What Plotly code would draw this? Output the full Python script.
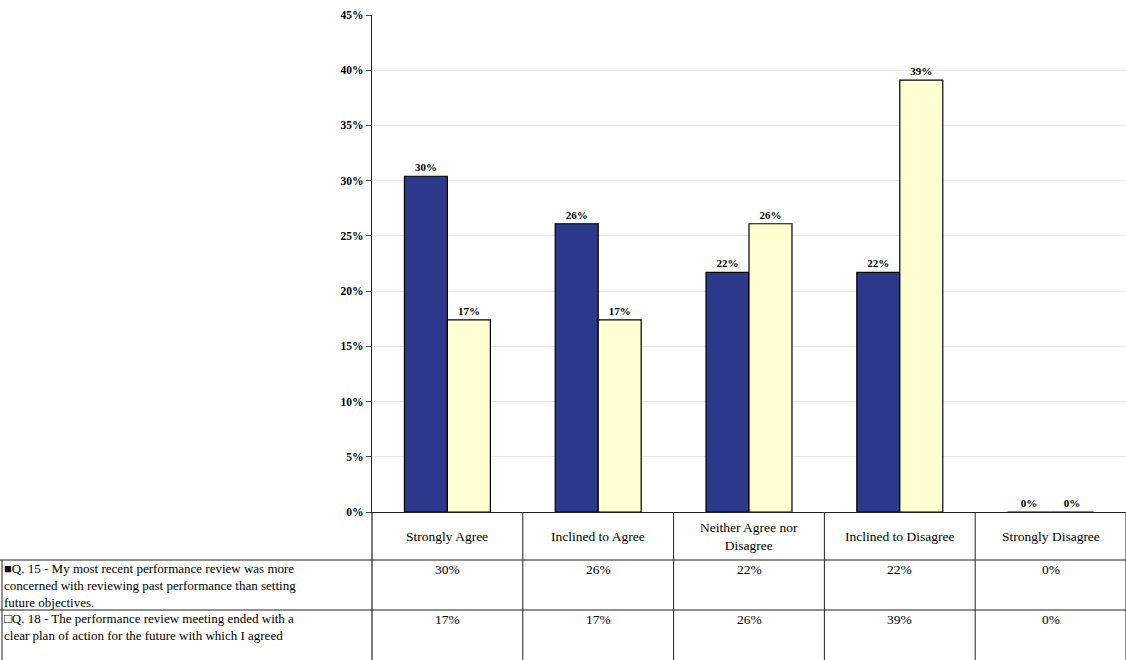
import plotly.graph_objects as go

categories = ["Strongly Agree", "Inclined to Agree", "Neither Agree nor<br>Disagree",
              "Inclined to Disagree", "Strongly Disagree"]
q15 = [0.304, 0.261, 0.217, 0.217, 0.0]
q18 = [0.174, 0.174, 0.261, 0.391, 0.0]
series_names = [
    "Q. 15 - My most recent performance review was more<br>concerned with reviewing past performance than setting<br>future objectives.",
    "Q. 18 - The performance review meeting ended with a<br>clear plan of action for the future with which I agreed",
]
y_ticks = [0, 0.05, 0.10, 0.15, 0.20, 0.25, 0.30, 0.35, 0.40, 0.45]

FONT = "Liberation Serif"
BLUE = "#2C388A"
YELLOW = "#FFFFD2"

fig = go.Figure()
xi = list(range(len(categories)))
for vals, col, name in [(q15, BLUE, series_names[0]), (q18, YELLOW, series_names[1])]:
    fig.add_trace(go.Bar(
        x=xi, y=vals, name=name, marker=dict(color=col, line=dict(color="black", width=1.2)),
        text=[f"{round(v*100):.0f}%" for v in vals], textposition="outside",
        textfont=dict(family=FONT, size=11, color="black", weight="bold"),
        cliponaxis=False, showlegend=False,
    ))

# table geometry (paper units relative to plot area)
H = 497.0
rows_y = [0, -48 / H, -98 / H, -148 / H]
shapes = []
for yy in rows_y[1:3]:
    shapes.append(dict(type="line", xref="paper", yref="paper", x0=-372 / 754, x1=1, y0=yy, y1=yy,
                       line=dict(color="#222", width=1)))
for i in range(len(categories)):
    shapes.append(dict(type="line", xref="x", yref="paper", x0=i + 0.5, x1=i + 0.5,
                       y0=rows_y[0], y1=rows_y[3], line=dict(color="#222", width=1)))
shapes.append(dict(type="line", xref="paper", yref="paper", x0=0, x1=0, y0=0, y1=rows_y[3],
                   line=dict(color="#222", width=1.2)))
shapes.append(dict(type="line", xref="paper", yref="paper", x0=-370 / 754, x1=-370 / 754,
                   y0=rows_y[1], y1=rows_y[3], line=dict(color="#222", width=1)))

annotations = []
for i, c in enumerate(categories):
    annotations.append(dict(x=i, xref="x", y=(rows_y[0] + rows_y[1]) / 2, yref="paper",
                            text=c, showarrow=False, font=dict(family=FONT, size=13.5, color="black"),
                            xanchor="center", yanchor="middle"))
    for r, vals in enumerate([q15, q18]):
        annotations.append(dict(x=i, xref="x", y=rows_y[r + 1] + 0 / H, yref="paper",
                                text=f"{round(vals[i]*100):.0f}%", showarrow=False,
                                font=dict(family=FONT, size=13.5, color="black"),
                                xanchor="center", yanchor="top"))
for r, (name, sym) in enumerate(zip(series_names, ["■", "□"])):
    annotations.append(dict(x=-370 / 754, xref="paper", y=rows_y[r + 1] + 1 / H, yref="paper",
                            text=sym + name, showarrow=False, align="left",
                            font=dict(family=FONT, size=13, color="black"),
                            xanchor="left", yanchor="top"))

fig.update_layout(
    width=1126, height=660,
    margin=dict(l=372, r=0, t=15, b=148),
    paper_bgcolor="white", plot_bgcolor="white",
    barmode="group", bargap=0.43, bargroupgap=0,
    shapes=shapes, annotations=annotations,
    font=dict(family=FONT, color="black"),
    xaxis=dict(range=[-0.5, 4.5], showticklabels=False, showgrid=False, zeroline=False,
               showline=True, linecolor="#222", linewidth=1, ticks=""),
    yaxis=dict(range=[0, 0.45], tickvals=y_ticks, tickformat=".0%",
               tickfont=dict(family=FONT, size=11.5, color="black", weight="bold"),
               showgrid=True, gridcolor="#e8e8e8", gridwidth=1, zeroline=False,
               showline=True, linecolor="#222", linewidth=1.2,
               ticks="outside", ticklen=5, tickcolor="#444"),
)

fig.write_html("out.html")
